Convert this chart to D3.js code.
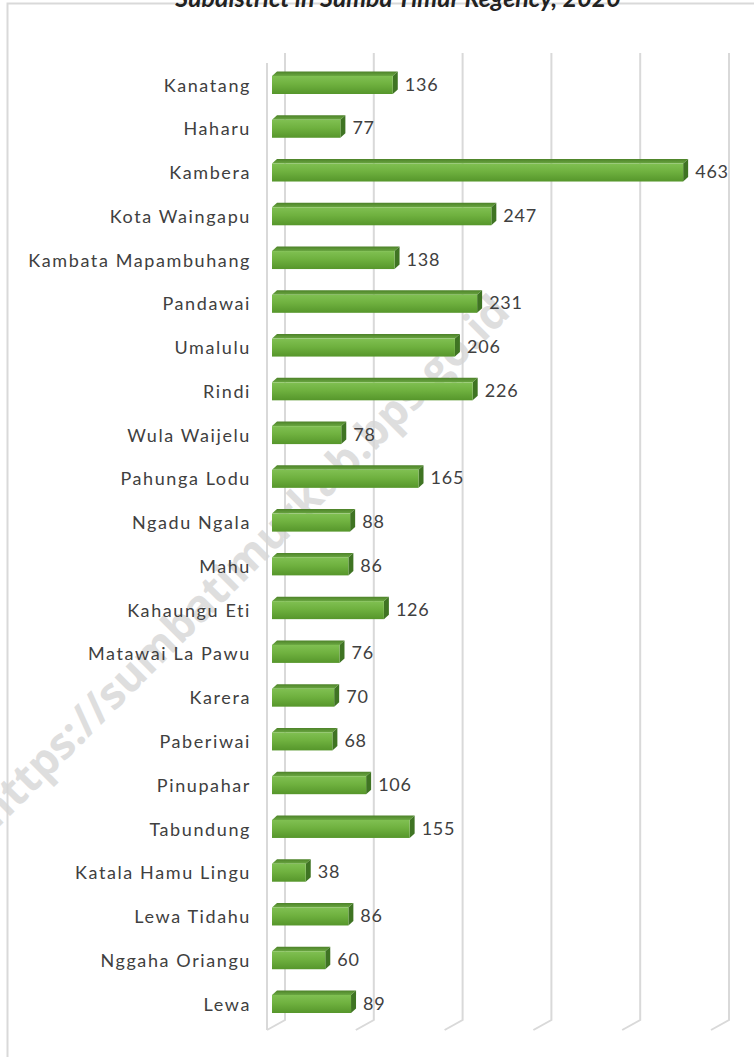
<!DOCTYPE html>
<html>
<head>
<meta charset="utf-8">
<script src="https://cdn.jsdelivr.net/npm/d3@7"></script>
<style>
  body { margin: 0; background: #fff; }
  svg { display: block; }
</style>
</head>
<body>
<svg id="chart" width="754" height="1057"></svg>
<script>
// data
var categories = ["Kanatang", "Haharu", "Kambera", "Kota Waingapu", "Kambata Mapambuhang",
  "Pandawai", "Umalulu", "Rindi", "Wula Waijelu", "Pahunga Lodu", "Ngadu Ngala", "Mahu",
  "Kahaungu Eti", "Matawai La Pawu", "Karera", "Paberiwai", "Pinupahar", "Tabundung",
  "Katala Hamu Lingu", "Lewa Tidahu", "Nggaha Oriangu", "Lewa"];
var values = [136, 77, 463, 247, 138, 231, 206, 226, 78, 165, 88, 86,
  126, 76, 70, 68, 106, 155, 38, 86, 60, 89];
var gridTicks = [0, 100, 200, 300, 400, 500];
var title = "Subdistrict in Sumba Timur Regency, 2020";
var watermark = "https://sumbatimurkab.bps.go.id";

var svg = d3.select("#chart"),
    width = +svg.attr("width"),
    height = +svg.attr("height");

var x = d3.scaleLinear().domain([0, 500]).range([272, 716]);
var y = d3.scalePoint().domain(categories).range([85, 1004]);

// 3d look: back wall offset and bar depth
var wallDx = 13, floorDx = -5, wallTop = 53, wallBottom = 1020, floorFront = 1030;
var barH = 18, depthX = 5, depthY = 4.5;

var defs = svg.append("defs");
var g1 = defs.append("linearGradient").attr("id", "front").attr("x1", 0).attr("y1", 0).attr("x2", 0).attr("y2", 1);
g1.append("stop").attr("offset", "0%").attr("stop-color", "#80c052");
g1.append("stop").attr("offset", "45%").attr("stop-color", "#6fb13f");
g1.append("stop").attr("offset", "100%").attr("stop-color", "#56962b");
var g2 = defs.append("linearGradient").attr("id", "topface").attr("x1", 0).attr("y1", 0).attr("x2", 0).attr("y2", 1);
g2.append("stop").attr("offset", "0%").attr("stop-color", "#4d8229");
g2.append("stop").attr("offset", "100%").attr("stop-color", "#6aa741");

// outer frame
svg.append("path")
  .attr("d", "M7.5," + height + "V3.5H" + width)
  .attr("fill", "none")
  .attr("stroke", "#d9d9d9")
  .attr("stroke-width", 2);

// title (the reference crops it at the top edge)
svg.append("text")
  .attr("x", 398)
  .attr("y", 7)
  .attr("text-anchor", "middle")
  .style("font-family", "Lato, 'Open Sans', sans-serif")
  .style("font-weight", "bold")
  .style("font-style", "italic")
  .style("font-size", "25px")
  .attr("fill", "#222")
  .text(title);

// gridlines on the back wall + floor
var grid = svg.append("g")
  .attr("fill", "none")
  .attr("stroke", "#d9d9d9")
  .attr("stroke-width", 2);

grid.selectAll("path.grid")
  .data(gridTicks)
  .enter()
  .append("path")
    .attr("class", "grid")
    .attr("d", function(d){
      var xb = x(d) + wallDx;
      return "M" + xb + "," + wallTop + "V" + wallBottom + "L" + (x(d) + floorDx) + "," + floorFront;
    });

// left wall front edge
grid.append("path")
  .attr("d", "M" + (x(0) + floorDx) + "," + (wallTop + 10) + "V" + floorFront);

// watermark
svg.append("text")
  .attr("transform", "translate(512,314) rotate(-45)")
  .attr("text-anchor", "end")
  .style("font-family", "'Open Sans', 'Liberation Sans', sans-serif")
  .style("font-weight", "bold")
  .style("font-size", "44px")
  .attr("fill", "#d6d6d6")
  .attr("opacity", 0.8)
  .text(watermark);

// bars
var bars = svg.append("g")
  .selectAll("g.bar")
  .data(values)
  .enter()
  .append("g")
    .attr("class", "bar");

bars.append("path")
  .attr("fill", "url(#topface)")
  .attr("d", function(d, i){
    var x0 = x(0), x1 = x(d), yt = y(categories[i]) - barH / 2;
    return "M" + x0 + "," + yt + "L" + (x0 + depthX) + "," + (yt - depthY) +
      "H" + (x1 + depthX) + "L" + x1 + "," + yt + "Z";
  });

bars.append("path")
  .attr("fill", "#3f7423")
  .attr("d", function(d, i){
    var x1 = x(d), yt = y(categories[i]) - barH / 2;
    return "M" + x1 + "," + yt + "L" + (x1 + depthX) + "," + (yt - depthY) +
      "V" + (yt - depthY + barH) + "L" + x1 + "," + (yt + barH) + "Z";
  });

bars.append("rect")
  .attr("x", x(0))
  .attr("y", function(d, i){ return y(categories[i]) - barH / 2 })
  .attr("width", function(d){ return x(d) - x(0) })
  .attr("height", barH)
  .attr("fill", "url(#front)");

// value labels
svg.append("g")
  .selectAll("text")
  .data(values)
  .enter()
  .append("text")
    .attr("x", function(d){ return x(d) + 12 })
    .attr("y", function(d, i){ return y(categories[i]) + 1 })
    .attr("dominant-baseline", "middle")
    .style("font-family", "Lato, sans-serif")
    .style("font-size", "18px")
    .style("letter-spacing", "0.8px")
    .attr("fill", "#404040")
    .text(function(d){ return d });

// category labels
svg.append("g")
  .selectAll("text")
  .data(categories)
  .enter()
  .append("text")
    .attr("x", 251)
    .attr("y", function(d){ return y(d) + 2 })
    .attr("text-anchor", "end")
    .attr("dominant-baseline", "middle")
    .style("font-family", "Lato, sans-serif")
    .style("font-size", "18px")
    .style("letter-spacing", "1.6px")
    .attr("fill", "#404040")
    .text(function(d){ return d });
</script>
</body>
</html>
